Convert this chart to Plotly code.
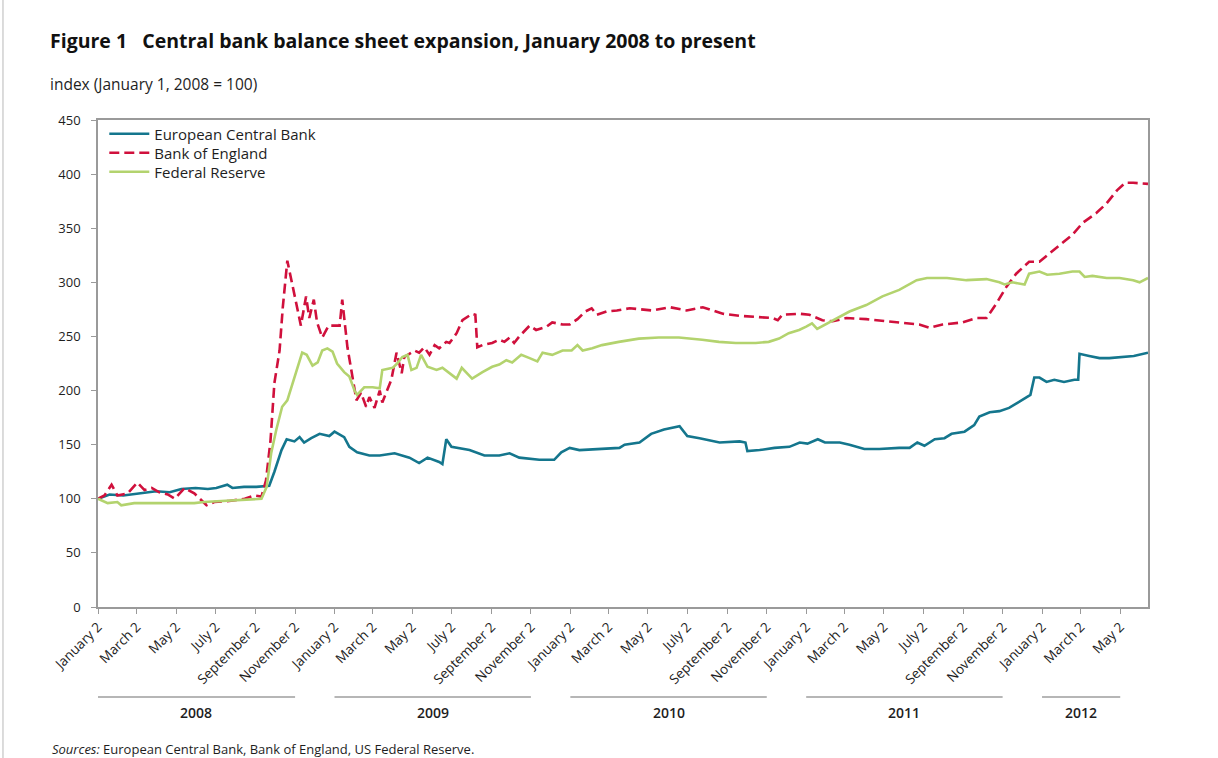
import plotly.graph_objects as go
import datetime as dt

# ---------------- data ----------------
ecb_dates = ["2008-01-02", "2008-01-20", "2008-02-10", "2008-03-07", "2008-04-01", "2008-04-22",
             "2008-05-10", "2008-06-01", "2008-06-20", "2008-07-03", "2008-07-20", "2008-07-28",
             "2008-08-15", "2008-09-03", "2008-09-23", "2008-10-01", "2008-10-12", "2008-10-20",
             "2008-11-01", "2008-11-09", "2008-11-16", "2008-11-27", "2008-12-10", "2008-12-25",
             "2009-01-02", "2009-01-17", "2009-01-25", "2009-02-06", "2009-02-25", "2009-03-13",
             "2009-04-05", "2009-04-28", "2009-05-13", "2009-05-26", "2009-06-13", "2009-06-18",
             "2009-06-24", "2009-07-02", "2009-07-30", "2009-08-22", "2009-09-14", "2009-09-30",
             "2009-10-15", "2009-11-15", "2009-12-08", "2009-12-19", "2010-01-01", "2010-01-16",
             "2010-02-16", "2010-03-19", "2010-03-27", "2010-04-19", "2010-05-07", "2010-05-27",
             "2010-06-20", "2010-07-02", "2010-07-21", "2010-08-21", "2010-09-21", "2010-09-30",
             "2010-10-03", "2010-10-22", "2010-11-14", "2010-12-07", "2010-12-23", "2011-01-04",
             "2011-01-20", "2011-01-31", "2011-02-23", "2011-03-10", "2011-04-02", "2011-04-25",
             "2011-05-26", "2011-06-11", "2011-06-23", "2011-07-04", "2011-07-20", "2011-08-04",
             "2011-08-15", "2011-09-04", "2011-09-19", "2011-09-27", "2011-10-13", "2011-10-28",
             "2011-11-12", "2011-11-28", "2011-12-15", "2011-12-21", "2011-12-29", "2012-01-09",
             "2012-01-21", "2012-02-05", "2012-02-21", "2012-02-27", "2012-02-29", "2012-03-15",
             "2012-03-31", "2012-04-15", "2012-04-30", "2012-05-23", "2012-06-14"]
ecb_values = [100, 104, 103, 105, 107, 106,
              109, 110, 109, 110, 113, 110,
              111, 111, 112, 125, 145, 155,
              153, 157, 152, 156, 160, 158,
              162, 157, 148, 143, 140, 140,
              142, 138, 133, 138, 134, 132,
              155, 148, 145, 140, 140, 142,
              138, 136, 136, 143, 147, 145,
              146, 147, 150, 152, 160, 164,
              167, 158, 156, 152, 153, 152,
              144, 145, 147, 148, 152, 151,
              155, 152, 152, 150, 146, 146,
              147, 147, 152, 149, 155, 156,
              160, 162, 168, 176, 180, 181,
              184, 190, 196, 212, 212, 208,
              210, 208, 210, 210, 234, 232,
              230, 230, 231, 232, 235]

boe_dates = ["2008-01-02", "2008-01-12", "2008-01-23", "2008-02-01", "2008-02-17", "2008-03-03",
             "2008-03-14", "2008-03-25", "2008-04-06", "2008-04-19", "2008-04-30", "2008-05-15",
             "2008-05-30", "2008-06-18", "2008-06-30", "2008-07-23", "2008-08-16", "2008-08-31",
             "2008-09-11", "2008-09-18", "2008-09-25", "2008-10-01", "2008-10-09", "2008-10-14",
             "2008-10-21", "2008-10-28", "2008-11-05", "2008-11-11", "2008-11-19", "2008-11-24",
             "2008-12-01", "2008-12-06", "2008-12-14", "2008-12-24", "2009-01-10", "2009-01-14",
             "2009-01-22", "2009-02-05", "2009-02-12", "2009-02-20", "2009-02-25", "2009-03-05",
             "2009-03-13", "2009-03-17", "2009-03-31", "2009-04-08", "2009-04-16", "2009-04-20",
             "2009-05-06", "2009-05-13", "2009-05-21", "2009-05-29", "2009-06-06", "2009-06-13",
             "2009-06-24", "2009-06-29", "2009-07-10", "2009-07-19", "2009-08-03", "2009-08-08",
             "2009-08-11", "2009-08-19", "2009-09-03", "2009-09-14", "2009-09-22", "2009-09-30",
             "2009-10-07", "2009-10-15", "2009-10-31", "2009-11-10", "2009-11-26", "2009-12-05",
             "2009-12-21", "2010-01-01", "2010-01-13", "2010-01-25", "2010-02-04", "2010-02-12",
             "2010-02-27", "2010-03-15", "2010-04-04", "2010-05-09", "2010-06-05", "2010-07-01",
             "2010-07-26", "2010-08-26", "2010-09-21", "2010-10-17", "2010-11-11", "2010-11-19",
             "2010-11-26", "2010-12-23", "2011-01-07", "2011-01-27", "2011-02-12", "2011-03-05",
             "2011-04-05", "2011-05-06", "2011-06-06", "2011-06-26", "2011-07-12", "2011-08-01",
             "2011-09-01", "2011-09-23", "2011-10-08", "2011-10-24", "2011-11-08", "2011-11-23",
             "2011-12-13", "2011-12-29", "2012-01-14", "2012-01-29", "2012-02-18", "2012-03-05",
             "2012-03-26", "2012-04-11", "2012-04-27", "2012-05-10", "2012-05-22", "2012-06-14"]
boe_values = [100, 103, 113, 103, 105, 115,
              108, 110, 106, 104, 100, 110,
              105, 94, 97, 98, 100, 103,
              102, 117, 154, 207, 237, 277,
              320, 299, 277, 260, 287, 267,
              284, 263, 249, 260, 260, 284,
              240, 191, 198, 185, 194, 184,
              200, 189, 210, 235, 216, 231,
              237, 235, 240, 233, 242, 239,
              245, 244, 253, 265, 271, 270,
              240, 242, 244, 247, 245, 249,
              244, 250, 260, 256, 259, 263,
              261, 261, 266, 273, 276, 270,
              273, 274, 276, 274, 277, 274,
              277, 271, 269, 268, 267, 265,
              270, 271, 270, 265, 264, 267,
              266, 264, 262, 261, 258, 261,
              263, 267, 267, 281, 296, 308,
              319, 319, 327, 334, 344, 355,
              364, 373, 385, 392, 392, 391]

fed_dates = ["2008-01-02", "2008-01-17", "2008-02-01", "2008-02-07", "2008-02-27", "2008-04-06",
             "2008-05-30", "2008-06-14", "2008-07-19", "2008-08-31", "2008-09-11", "2008-09-19",
             "2008-09-26", "2008-10-04", "2008-10-13", "2008-10-21", "2008-11-01", "2008-11-13",
             "2008-11-20", "2008-11-29", "2008-12-07", "2008-12-14", "2008-12-22", "2008-12-30",
             "2009-01-06", "2009-01-17", "2009-01-25", "2009-02-02", "2009-02-06", "2009-02-17",
             "2009-03-02", "2009-03-13", "2009-03-17", "2009-04-02", "2009-04-09", "2009-04-17",
             "2009-04-25", "2009-05-01", "2009-05-09", "2009-05-16", "2009-05-26", "2009-06-09",
             "2009-06-18", "2009-07-10", "2009-07-18", "2009-08-03", "2009-08-19", "2009-09-03",
             "2009-09-14", "2009-09-25", "2009-10-04", "2009-10-18", "2009-10-31", "2009-11-12",
             "2009-11-20", "2009-12-05", "2009-12-21", "2010-01-04", "2010-01-13", "2010-01-21",
             "2010-02-05", "2010-02-20", "2010-03-18", "2010-04-18", "2010-05-19", "2010-06-19",
             "2010-07-25", "2010-08-20", "2010-09-15", "2010-10-16", "2010-11-05", "2010-11-21",
             "2010-12-06", "2010-12-22", "2011-01-02", "2011-01-11", "2011-01-19", "2011-02-12",
             "2011-03-10", "2011-04-05", "2011-04-30", "2011-05-26", "2011-06-22", "2011-07-08",
             "2011-08-08", "2011-09-07", "2011-10-08", "2011-10-28", "2011-11-05", "2011-11-17",
             "2011-12-06", "2011-12-13", "2011-12-29", "2012-01-10", "2012-01-29", "2012-02-18",
             "2012-02-29", "2012-03-08", "2012-03-20", "2012-04-11", "2012-05-01", "2012-05-22",
             "2012-06-01", "2012-06-14"]
fed_values = [100, 96, 97, 94, 96, 96,
              96, 97, 98, 99, 100, 111,
              142, 164, 185, 191, 213, 235,
              233, 223, 226, 237, 239, 236,
              225, 217, 213, 200, 196, 203,
              203, 202, 219, 221, 225, 231,
              233, 219, 221, 233, 222, 219,
              221, 211, 221, 211, 217, 222,
              224, 228, 226, 233, 230, 227,
              235, 233, 237, 237, 242, 237,
              239, 242, 245, 248, 249, 249,
              247, 245, 244, 244, 245, 248,
              253, 256, 259, 262, 257, 265,
              273, 279, 287, 293, 302, 304,
              304, 302, 303, 300, 298, 300,
              298, 308, 310, 307, 308, 310,
              310, 305, 306, 304, 304, 302,
              300, 304]

series_names = ["European Central Bank", "Bank of England", "Federal Reserve"]
series_colors = ["#14768d", "#d0103c", "#b3d36e"]

month_labels = ["January 2", "March 2", "May 2", "July 2", "September 2", "November 2"]
month_numbers = [1, 3, 5, 7, 9, 11]
tick_years = [2008, 2009, 2010, 2011, 2012]
last_tick = "2012-05-02"

year_labels = ["2008", "2009", "2010", "2011", "2012"]
year_starts = ["2008-01-02", "2009-01-02", "2010-01-02", "2011-01-02", "2012-01-02"]
year_ends = ["2008-11-02", "2009-11-02", "2010-11-02", "2011-11-02", "2012-05-02"]

y_ticks = [0, 50, 100, 150, 200, 250, 300, 350, 400, 450]

# ---------------- ticks ----------------
tickvals, ticktext = [], []
for yr in tick_years:
    for m, lab in zip(month_numbers, month_labels):
        d = f"{yr}-{m:02d}-02"
        if d <= last_tick:
            tickvals.append(d)
            ticktext.append(lab)

FONT = "Open Sans"
AX = "#9a9a9a"
TXT = "#1e1e1e"

legend_ids = ["legend", "legend2", "legend3"]
legend_rows = [0.9713, 0.9322, 0.8932]

fig = go.Figure()
fig.add_trace(go.Scatter(x=ecb_dates, y=ecb_values, mode="lines", name=series_names[0],
                         legend=legend_ids[0],
                         line=dict(color=series_colors[0], width=2.6)))
fig.add_trace(go.Scatter(x=boe_dates, y=boe_values, mode="lines", name=series_names[1],
                         legend=legend_ids[1],
                         line=dict(color=series_colors[1], width=2.6, dash="10px,5px")))
fig.add_trace(go.Scatter(x=fed_dates, y=fed_values, mode="lines", name=series_names[2],
                         legend=legend_ids[2],
                         line=dict(color=series_colors[2], width=2.6)))

shapes = []
annotations = []
for lab, s, e in zip(year_labels, year_starts, year_ends):
    shapes.append(dict(type="line", xref="x", yref="paper", x0=s, x1=e, y0=-0.1848, y1=-0.1848,
                       line=dict(color="#6e6e6e", width=1.2)))
    ds = dt.date.fromisoformat(s)
    de = dt.date.fromisoformat(e)
    mid = ds + (de - ds) / 2
    annotations.append(dict(text=lab, xref="x", yref="paper", x=mid.isoformat(), y=-0.2176,
                            showarrow=False, xanchor="center", yanchor="middle",
                            font=dict(family=FONT, size=14, color=TXT, weight=600)))

# left page border
shapes.append(dict(type="line", xref="paper", yref="paper", x0=-0.0905, x1=-0.0905, y0=-0.32, y1=1.26,
                   line=dict(color="#d0d0d0", width=1.5)))

annotations.append(dict(text="<b>Figure 1   Central bank balance sheet expansion, January 2008 to present</b>",
                        xref="paper", yref="paper", x=-0.0476, y=1.164, xanchor="left", yanchor="middle",
                        showarrow=False, font=dict(family=FONT, size=19.5, color="#111111")))
annotations.append(dict(text="index (January 1, 2008 = 100)",
                        xref="paper", yref="paper", x=-0.0476, y=1.074, xanchor="left", yanchor="middle",
                        showarrow=False, font=dict(family=FONT, size=15.5, color=TXT)))
annotations.append(dict(text="<i>Sources:</i> European Central Bank, Bank of England, US Federal Reserve.",
                        xref="paper", yref="paper", x=-0.0457, y=-0.292, xanchor="left", yanchor="middle",
                        showarrow=False, font=dict(family=FONT, size=13, color=TXT)))

legend_common = dict(x=0.006, xanchor="left", yanchor="middle", bgcolor="rgba(0,0,0,0)",
                     font=dict(family=FONT, size=15, color=TXT), itemwidth=40)

fig.update_layout(
    width=1218, height=758,
    margin=dict(l=98, r=70, t=120, b=151),
    paper_bgcolor="white", plot_bgcolor="white",
    font=dict(family=FONT, color=TXT),
    showlegend=True,
    legend=dict(y=legend_rows[0], **legend_common),
    legend2=dict(y=legend_rows[1], **legend_common),
    legend3=dict(y=legend_rows[2], **legend_common),
    shapes=shapes, annotations=annotations,
)
fig.update_xaxes(type="date", range=["2008-01-02", "2012-06-14"], tickmode="array",
                 tickvals=tickvals, ticktext=ticktext, tickangle=-45,
                 ticks="outside", ticklen=5, tickcolor=AX, showline=True, linecolor=AX, linewidth=1.5,
                 mirror=True, showgrid=False, zeroline=False,
                 tickfont=dict(family=FONT, size=13.5, color=TXT))
fig.update_yaxes(range=[0, 450], tickmode="array", tickvals=y_ticks,
                 ticks="outside", ticklen=5, tickcolor=AX, showline=True, linecolor=AX, linewidth=1.5,
                 mirror=True, showgrid=False, zeroline=False, ticklabelstandoff=8,
                 tickfont=dict(family=FONT, size=13, color=TXT))

fig.write_html("out.html", config={"displayModeBar": False},
               post_script="document.body.style.margin='0';")
